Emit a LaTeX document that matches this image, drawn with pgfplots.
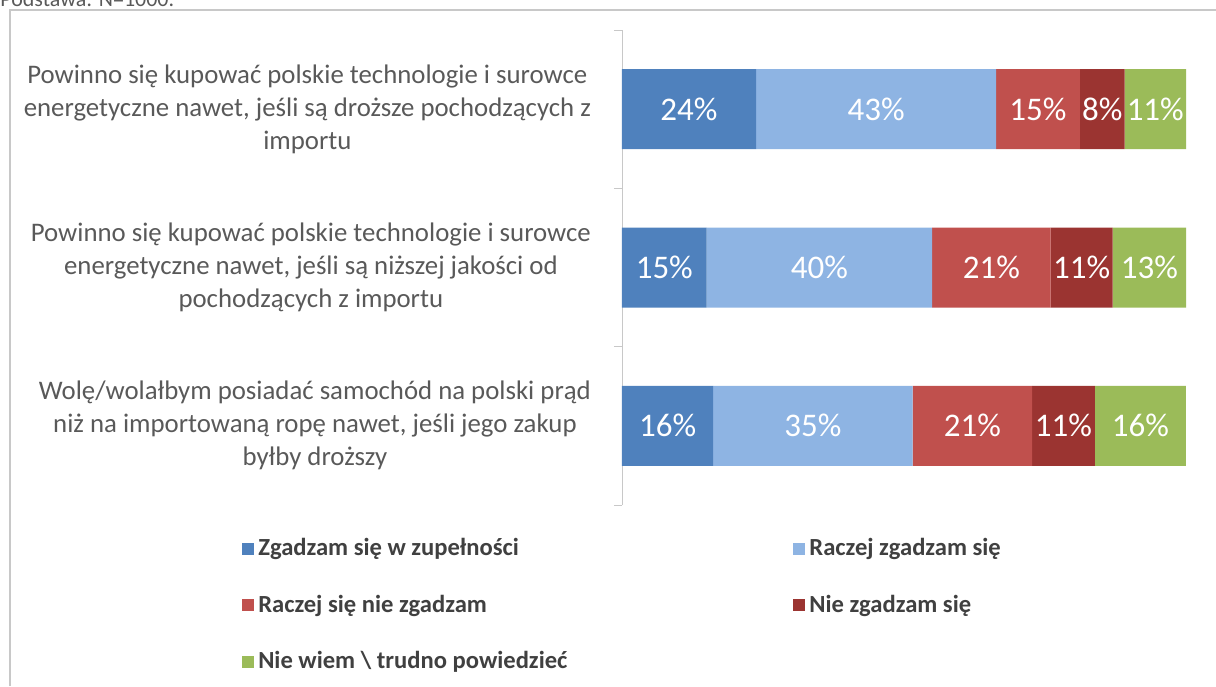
\documentclass[border=0pt]{standalone}
\usepackage{pgfplots}
\pgfplotsset{compat=1.18}
\usepackage{pgfplotstable}
\usepackage{fontspec}
\setmainfont{Carlito}

\definecolor{c1}{HTML}{4F81BD}
\definecolor{c2}{HTML}{8EB4E3}
\definecolor{c3}{HTML}{C0504D}
\definecolor{c4}{HTML}{9B3431}
\definecolor{c5}{HTML}{9BBB59}
\definecolor{labgray}{HTML}{595959}
\definecolor{leggray}{HTML}{404040}
\definecolor{framegray}{HTML}{C8C8C8}

% values as printed; t = sum of the row (Excel draws 100% stacked)
\pgfplotstableread{
row a b c d e t
0 24 43 15 8 11 101
1 15 40 21 11 13 100
2 16 35 21 11 16 99
}\survey

\begin{document}
\begin{tikzpicture}
\draw[framegray, line width=0.8pt] (5pt,-343pt) -- (5pt,-5pt) -- (608pt,-5pt);
\node[anchor=base west, inner sep=0pt, text=labgray, font=\fontsize{11}{13}\selectfont] at (0pt,-3pt) {Podstawa: N=1000.};

\begin{axis}[
  at={(311pt,-15pt)}, anchor=north west,
  scale only axis, width=282pt, height=237.5pt,
  xbar stacked, bar width=40pt,
  xmin=0, xmax=100, ymin=-0.5, ymax=2.5, y dir=reverse,
  axis y line*=left, hide x axis,
  y axis line style={draw=framegray},
  ytick={0,1,2},
  yticklabels={
    {Powinno się kupować polskie technologie i surowce\\energetyczne nawet, jeśli są droższe pochodzących z\\importu},
    {Powinno się kupować polskie technologie i surowce\\energetyczne nawet, jeśli są niższej jakości od\\pochodzących z importu},
    {Wolę/wolałbym posiadać samochód na polski prąd\\niż na importowaną ropę nawet, jeśli jego zakup\\byłby droższy}},
  yticklabel style={align=center, text=labgray, xshift=-12pt,
    font=\fontsize{13.4}{16.5}\selectfont},
  major tick length=0pt,
  minor ytick={-0.5,0.5,1.5,2.5}, minor tick length=4pt,
  tick align=outside, tick style={draw=framegray},
  point meta=explicit symbolic,
  nodes near coords={\pgfplotspointmeta\%},
  every node near coord/.append style={anchor=center, text=white,
    font=\fontsize{16.5}{19}\selectfont},
  legend columns=2, legend cell align=left,
  legend image code/.code={\fill[#1] (0pt,-3pt) rectangle (6pt,3pt);},
  legend style={at={(-0.674,-0.061)}, anchor=north west, draw=none, fill=none,
    inner sep=0pt, row sep=14.2pt, text=leggray,
    font=\bfseries\fontsize{12.3}{14}\selectfont,
    /tikz/column 2/.style={column sep=111pt}},
]
\addplot[fill=c1, draw=none] table[x expr=\thisrow{a}*100/\thisrow{t}, y=row, meta=a] {\survey};
\addplot[fill=c2, draw=none] table[x expr=\thisrow{b}*100/\thisrow{t}, y=row, meta=b] {\survey};
\addplot[fill=c3, draw=none] table[x expr=\thisrow{c}*100/\thisrow{t}, y=row, meta=c] {\survey};
\addplot[fill=c4, draw=none] table[x expr=\thisrow{d}*100/\thisrow{t}, y=row, meta=d] {\survey};
\addplot[fill=c5, draw=none] table[x expr=\thisrow{e}*100/\thisrow{t}, y=row, meta=e] {\survey};
\legend{Zgadzam się w zupełności, Raczej zgadzam się, Raczej się nie zgadzam, Nie zgadzam się, Nie wiem \textbackslash\ trudno powiedzieć}
\end{axis}

\pgfresetboundingbox
\useasboundingbox (0,0) rectangle (608pt,-343pt);
\end{tikzpicture}
\end{document}
